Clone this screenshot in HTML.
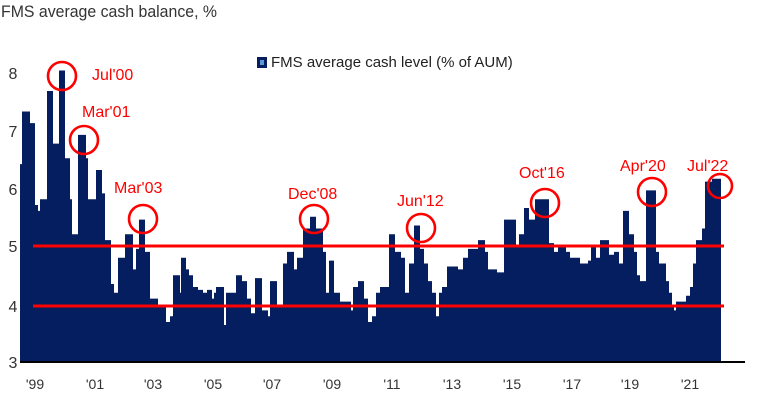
<!DOCTYPE html>
<html><head><meta charset="utf-8"><style>
body{margin:0;background:#fff;}
svg{display:block;font-family:"Liberation Sans",sans-serif;}
</style></head><body>
<svg id="c" width="760" height="406" viewBox="0 0 760 406" xmlns="http://www.w3.org/2000/svg">
<text x="1" y="17" font-size="17" fill="#333" textLength="216" lengthAdjust="spacingAndGlyphs">FMS average cash balance, %</text>
<rect x="257" y="57" width="10" height="11" fill="#041e5f"/>
<rect x="260" y="60" width="4" height="5" fill="#5b9bd5"/>
<text x="271" y="67" font-size="15" fill="#222">FMS average cash level (% of AUM)</text>
<g font-size="16" fill="#333" text-anchor="middle">
<text x="13" y="79">8</text><text x="13" y="137">7</text><text x="13" y="195">6</text>
<text x="13" y="252">5</text><text x="13" y="312">4</text><text x="13" y="368">3</text>
</g>
<g font-size="14" fill="#333" text-anchor="middle">
<text x="35" y="389">'99</text><text x="95" y="389">'01</text><text x="153" y="389">'03</text>
<text x="213" y="389">'05</text><text x="272" y="389">'07</text><text x="332" y="389">'09</text>
<text x="392" y="389">'11</text><text x="452" y="389">'13</text><text x="512" y="389">'15</text>
<text x="572" y="389">'17</text><text x="630" y="389">'19</text><text x="690" y="389">'21</text>
</g>
<path id="area" fill="#041e5f" d=""/>
<rect x="20" y="361" width="725" height="2" fill="#000"/>
<rect x="33" y="244.5" width="691" height="3" fill="#f00"/>
<rect x="33" y="304.5" width="691" height="3" fill="#f00"/>
<g fill="none" stroke="#f00" stroke-width="2.6">
<circle cx="62" cy="76" r="14"/><circle cx="84" cy="140" r="14"/><circle cx="143" cy="219" r="14"/>
<circle cx="314" cy="219" r="14"/><circle cx="421" cy="228" r="14"/><circle cx="545" cy="203" r="14"/>
<circle cx="652" cy="192" r="14"/><circle cx="720" cy="186" r="12"/>
</g>
<g font-size="16" fill="#f00">
<text x="92" y="80">Jul'00</text><text x="82" y="117">Mar'01</text><text x="114" y="193">Mar'03</text>
<text x="288" y="199">Dec'08</text><text x="397" y="206">Jun'12</text><text x="519" y="178">Oct'16</text>
<text x="620" y="171">Apr'20</text><text x="687" y="171">Jul'22</text>
</g>
</svg>
<script>
var b=[[20,6.4],[22,7.3],[30,7.1],[35,5.7],[38,5.6],[40,5.8],[47,7.65],[53,6.75],[59,8.0],[65,6.5],[70,5.8],[72,5.2],[78,6.9],[86,6.5],[88,5.8],[96,6.3],[102,5.9],[105,5.1],[111,4.35],[114,4.2],[118,4.8],[125,5.2],[133,4.6],[136,4.95],[139,5.45],[145,4.9],[150,4.1],[158,3.95],[166,3.7],[170,3.8],[173,4.5],[180,4.2],[181,4.8],[186,4.6],[189,4.5],[193,4.3],[198,4.25],[203,4.2],[207,4.25],[212,4.1],[214,4.2],[216,4.3],[224,3.65],[226,4.2],[236,4.5],[242,4.4],[247,4.1],[251,3.85],[255,4.45],[262,3.9],[268,3.8],[270,4.4],[277,4.0],[283,4.7],[287,4.9],[294,4.6],[297,4.8],[303,5.3],[310,5.5],[316,5.3],[323,4.9],[326,4.2],[329,4.75],[334,4.2],[340,4.05],[351,3.9],[353,4.3],[358,4.4],[364,4.1],[368,3.7],[372,3.8],[376,4.2],[380,4.3],[389,5.2],[395,4.9],[401,4.8],[405,4.2],[409,4.7],[414,5.35],[420,4.95],[424,4.7],[428,4.4],[432,4.2],[436,3.8],[439,4.2],[442,4.3],[447,4.65],[458,4.6],[463,4.8],[468,4.95],[478,5.1],[485,4.9],[488,4.6],[497,4.55],[504,5.45],[516,5.0],[519,5.2],[524,5.65],[529,5.45],[535,5.8],[549,5.05],[554,4.9],[558,5.0],[566,4.9],[570,4.8],[580,4.7],[588,4.75],[591,5.0],[596,4.8],[600,5.1],[609,4.85],[614,4.9],[619,4.7],[623,5.6],[629,5.2],[634,4.9],[637,4.5],[640,4.4],[646,5.95],[656,4.9],[659,4.7],[666,4.4],[669,4.2],[672,4.0],[674,3.9],[676,4.05],[686,4.15],[690,4.3],[693,4.7],[696,5.1],[702,5.3],[705,6.1],[712,6.15]];
function Y(v){return 246-(v-5)*58.5;}
var d="M20,361";
for(var i=0;i<b.length;i++){var x=b[i][0],y=Y(b[i][1]);d+=" L"+x+","+(i?Y(b[i-1][1]):361)+" L"+x+","+y;}
d+=" L721,"+Y(6.15)+" L721,361 Z";
document.getElementById("area").setAttribute("d",d);
</script>
</body></html>
